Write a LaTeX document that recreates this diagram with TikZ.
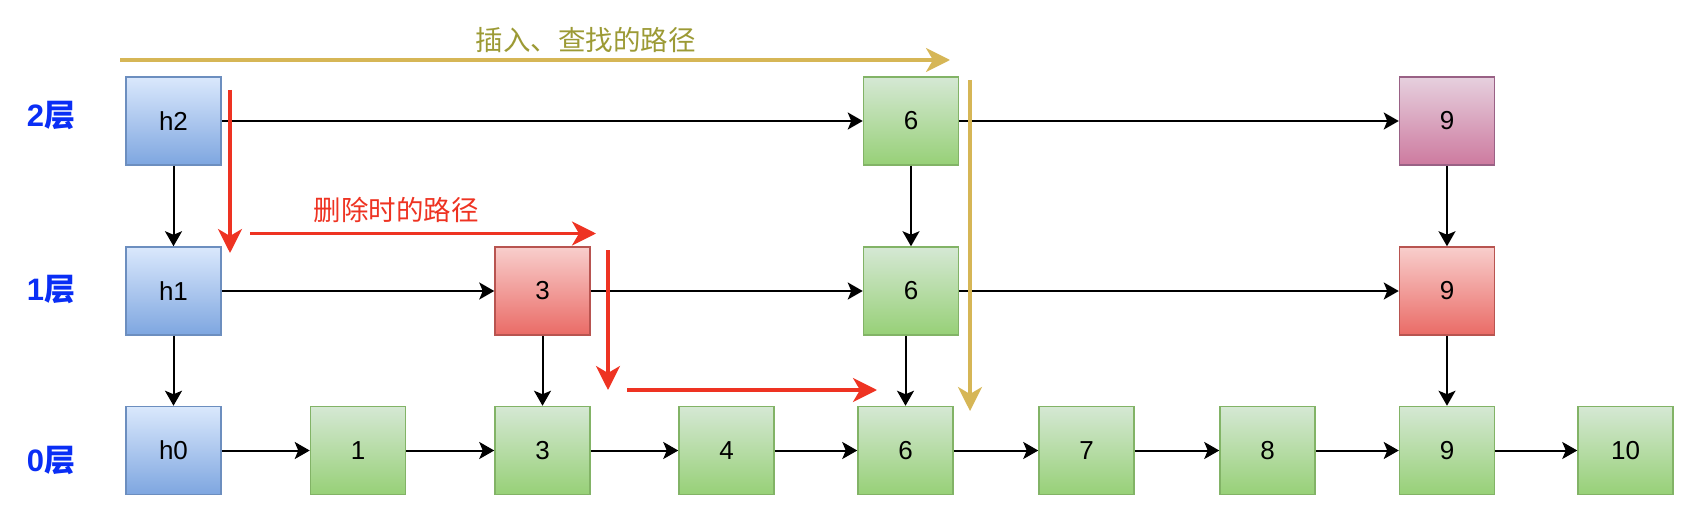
\documentclass[tikz,border=0pt]{standalone}
\usepackage{fontspec}
\setmainfont{Liberation Sans}
\newfontfamily\cjk{Noto Sans CJK SC}
\usetikzlibrary{arrows.meta,positioning}
\definecolor{headline}{HTML}{6C8EBF}
\definecolor{headtop}{HTML}{DAE8FC}
\definecolor{headbot}{HTML}{7EA6E0}
\definecolor{nodeline}{HTML}{82B366}
\definecolor{nodetop}{HTML}{D5E8D4}
\definecolor{nodebot}{HTML}{97D077}
\definecolor{delline}{HTML}{B85450}
\definecolor{deltop}{HTML}{F8CECC}
\definecolor{delbot}{HTML}{EA6B66}
\definecolor{topline}{HTML}{996185}
\definecolor{toptop}{HTML}{E6D0DE}
\definecolor{topbot}{HTML}{CD7A9F}
\definecolor{findline}{HTML}{D6B656}
\definecolor{findtext}{HTML}{9C9A35}
\definecolor{delpath}{HTML}{EE3322}
\definecolor{levelblue}{HTML}{0A2EF5}

\begin{document}
\begin{tikzpicture}[x=1pt,y=-1pt,>={Stealth[length=15pt,width=17pt,inset=3.5pt]},auto]
\tikzstyle{every node}=[font=\fontsize{26}{30}\selectfont]
\tikzstyle{cell}=[draw,line width=1.5pt,minimum width=95pt,minimum height=88pt,inner sep=0pt]
\tikzstyle{head}=[cell,draw=headline,top color=headtop,bottom color=headbot]
\tikzstyle{plain}=[cell,draw=nodeline,top color=nodetop,bottom color=nodebot]
\tikzstyle{del}=[cell,draw=delline,top color=deltop,bottom color=delbot]
\tikzstyle{high}=[cell,draw=topline,top color=toptop,bottom color=topbot]
\tikzstyle{level}=[text=levelblue,font=\fontsize{31}{34}\selectfont\bfseries]
\tikzstyle{link}=[->,line width=2pt]
\tikzstyle{findpath}=[-{Stealth[length=24pt,width=24pt,inset=7pt]},draw=findline,line width=3.3pt]
\tikzstyle{delpath}=[-{Stealth[length=24pt,width=24pt,inset=7pt]},draw=delpath,line width=3.3pt]

\useasboundingbox (0,0) rectangle (1692,524);

% level 0
\node[head]  (h0)  at (173.5,450.5) {h0};
\node[plain] (n1)  at (358,450.5)   {1};
\node[plain] (n3)  at (542.5,450.5) {3};
\node[plain] (n4)  at (726.5,450.5) {4};
\node[plain] (n6)  at (905.5,450.5) {6};
\node[plain] (n7)  at (1086.5,450.5) {7};
\node[plain] (n8)  at (1267.5,450.5) {8};
\node[plain] (n9)  at (1447,450.5)  {9};
\node[plain] (n10) at (1625.5,450.5) {10};

% level 1
\node[head]  (h1) [above of=h0,node distance=159.5pt] {h1};
\node[del]   (m3) [above of=n3,node distance=159.5pt] {3};
\node[plain] (m6) [above of=n6,node distance=159.5pt,xshift=5.5pt] {6};
\node[del]   (m9) [above of=n9,node distance=159.5pt] {9};

% level 2
\node[head]  (h2) [above of=h1,node distance=170pt] {h2};
\node[plain] (t6) [above of=m6,node distance=170pt] {6};
\node[high]  (t9) [above of=m9,node distance=170pt] {9};

\node[level] (l2) at (51,116) {2{\cjk 层}};
\node[level] (l1) at (51,290) {1{\cjk 层}};
\node[level] (l0) at (51,461) {0{\cjk 层}};

\path[link]
(h0) edge (n1)
(n1) edge (n3)
(n3) edge (n4)
(n4) edge (n6)
(n6) edge (n7)
(n7) edge (n8)
(n8) edge (n9)
(n9) edge (n10)
(h1) edge (m3)
(m3) edge (m6)
(m6) edge (m9)
(h2) edge (t6)
(t6) edge (t9)
(h2) edge (h1)
(h1) edge (h0)
(m3) edge (n3)
(t6) edge (m6)
(m6.south -| n6) edge (n6)
(t9) edge (m9)
(m9) edge (n9)
;

% search path
\coordinate (fa) at (120,60);
\coordinate (fb) at (950,60);
\coordinate (fc) at (970,80);
\coordinate (fd) at (970,411);
\draw[findpath] (fa) -- (fb);
\draw[findpath] (fc) -- (fd);
\node[text=findtext,font=\fontsize{27.5}{30}\selectfont] (findlabel) at (585.5,40) {\cjk 插入、查找的路径};

% delete path
\coordinate (da) at (230,90);
\coordinate (db) at (230,253);
\coordinate (dc) at (250,233.5);
\coordinate (dd) at (596,233.5);
\coordinate (de) at (608,250);
\coordinate (df) at (608,390);
\coordinate (dg) at (627,390);
\coordinate (dh) at (877,390);
\draw[delpath] (da) -- (db);
\draw[delpath] (dc) -- (dd);
\draw[delpath] (de) -- (df);
\draw[delpath] (dg) -- (dh);
\node[text=delpath,font=\fontsize{27.5}{30}\selectfont] (dellabel) at (396,210) {\cjk 删除时的路径};
\end{tikzpicture}
\end{document}
